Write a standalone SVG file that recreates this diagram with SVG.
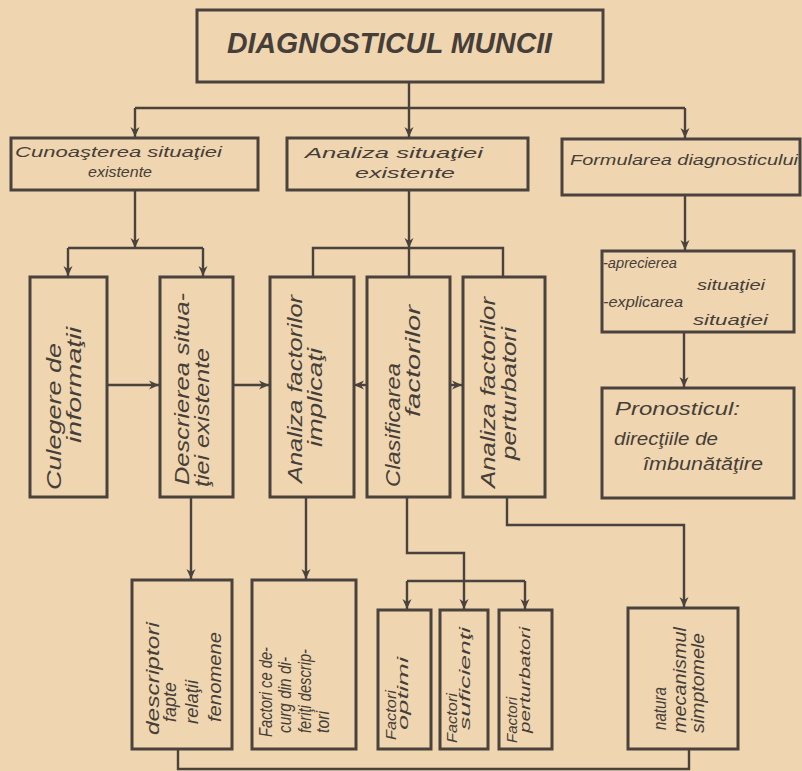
<svg xmlns="http://www.w3.org/2000/svg" width="802" height="771" viewBox="0 0 802 771">
<defs>
<style>
.bg{fill:#efd5b0}
.box{fill:none;stroke:#4a423c;stroke-width:3}
.ln{fill:none;stroke:#4a423c;stroke-width:2.4}
.t{font-family:"Liberation Sans",Arial,sans-serif;font-style:italic;fill:#463e38}
.h{font-size:15px}
.v{font-size:21px}
.s{font-size:18px}
.xs{font-size:15px}
.title{font-size:29px;font-weight:bold}
</style>
<marker id="ah" viewBox="0 0 10 10" refX="10" refY="5" markerWidth="10" markerHeight="10" markerUnits="userSpaceOnUse" orient="auto">
<path d="M0,0.5 L10,5 L0,9.5 L3,5 z" fill="#4a423c"/>
</marker>
</defs>
<rect class="bg" x="0" y="0" width="802" height="771"/>

<g id="connectors">
<path class="ln" d="M409,82 V137" marker-end="url(#ah)"/>
<path class="ln" d="M135,108 H685"/>
<path class="ln" d="M135,108 V137" marker-end="url(#ah)"/>
<path class="ln" d="M685,108 V138" marker-end="url(#ah)"/>
<path class="ln" d="M135,190 V248" marker-end="url(#ah)"/>
<path class="ln" d="M68,248 H203"/>
<path class="ln" d="M68,248 V276" marker-end="url(#ah)"/>
<path class="ln" d="M203,248 V276" marker-end="url(#ah)"/>
<path class="ln" d="M409,190 V248" marker-end="url(#ah)"/>
<path class="ln" d="M313,277 V248 H503 V277"/>
<path class="ln" d="M409,248 V277"/>
<path class="ln" d="M685,195 V250" marker-end="url(#ah)"/>
<path class="ln" d="M684,332 V387" marker-end="url(#ah)"/>
<path class="ln" d="M107,385 H159" marker-end="url(#ah)"/>
<path class="ln" d="M233,385 H269" marker-end="url(#ah)"/>
<path class="ln" d="M367,385 H354" marker-end="url(#ah)"/>
<path class="ln" d="M450,385 H462" marker-end="url(#ah)"/>
<path class="ln" d="M191,497 V579" marker-end="url(#ah)"/>
<path class="ln" d="M306,497 V579" marker-end="url(#ah)"/>
<path class="ln" d="M407,497 V553 H464 V609" marker-end="url(#ah)"/>
<path class="ln" d="M407,581 H525"/>
<path class="ln" d="M407,581 V609" marker-end="url(#ah)"/>
<path class="ln" d="M525,581 V609" marker-end="url(#ah)"/>
<path class="ln" d="M507,497 V525 H684 V607" marker-end="url(#ah)"/>
<path class="ln" d="M178,749 V769 H689 V749"/>
</g>

<g id="title">
<rect class="box" x="197" y="10" width="406" height="72"/>
<text class="t title" x="227" y="53" textLength="325" lengthAdjust="spacingAndGlyphs">DIAGNOSTICUL MUNCII</text>
</g>

<g id="cunoasterea">
<rect class="box" x="11" y="138" width="247" height="52"/>
<text class="t h" x="15" y="157" textLength="207" lengthAdjust="spacingAndGlyphs">Cunoaşterea situaţiei</text>
<text class="t h" x="88" y="177" textLength="64" lengthAdjust="spacingAndGlyphs">existente</text>
</g>

<g id="analiza-situatiei">
<rect class="box" x="287" y="138" width="241" height="52"/>
<text class="t h" x="305" y="158" textLength="178" lengthAdjust="spacingAndGlyphs">Analiza situaţiei</text>
<text class="t h" x="355" y="178" textLength="100" lengthAdjust="spacingAndGlyphs">existente</text>
</g>

<g id="formularea">
<rect class="box" x="562" y="139" width="238" height="56"/>
<text class="t h" x="570" y="165" textLength="228" lengthAdjust="spacingAndGlyphs">Formularea diagnosticului</text>
</g>

<g id="aprecierea">
<rect class="box" x="602" y="251" width="192" height="81"/>
<text class="t h" x="603" y="268" textLength="74" lengthAdjust="spacingAndGlyphs">-aprecierea</text>
<text class="t h" x="697" y="290" textLength="68" lengthAdjust="spacingAndGlyphs">situaţiei</text>
<text class="t h" x="603" y="307" textLength="80" lengthAdjust="spacingAndGlyphs">-explicarea</text>
<text class="t h" x="693" y="325" textLength="75" lengthAdjust="spacingAndGlyphs">situaţiei</text>
</g>

<g id="pronosticul">
<rect class="box" x="602" y="388" width="192" height="110"/>
<text class="t s" x="615" y="415" textLength="125" lengthAdjust="spacingAndGlyphs">Pronosticul:</text>
<text class="t s" x="614" y="445" textLength="104" lengthAdjust="spacingAndGlyphs">direcţiile de</text>
<text class="t s" x="643" y="470" textLength="120" lengthAdjust="spacingAndGlyphs">îmbunătăţire</text>
</g>

<g id="culegere">
<rect class="box" x="30" y="277" width="77" height="220"/>
<text class="t v" transform="translate(61,490) rotate(-90)" textLength="147" lengthAdjust="spacingAndGlyphs">Culegere de</text>
<text class="t v" transform="translate(81,443) rotate(-90)" textLength="116" lengthAdjust="spacingAndGlyphs">informaţii</text>
</g>

<g id="descrierea">
<rect class="box" x="160" y="277" width="73" height="220"/>
<text class="t v" transform="translate(189,485) rotate(-90)" textLength="192" lengthAdjust="spacingAndGlyphs">Descrierea situa-</text>
<text class="t v" transform="translate(209,487) rotate(-90)" textLength="139" lengthAdjust="spacingAndGlyphs">ţiei existente</text>
</g>

<g id="analiza-implicati">
<rect class="box" x="270" y="277" width="84" height="220"/>
<text class="t v" transform="translate(302,483) rotate(-90)" textLength="188" lengthAdjust="spacingAndGlyphs">Analiza factorilor</text>
<text class="t v" transform="translate(322,447) rotate(-90)" textLength="99" lengthAdjust="spacingAndGlyphs">implicaţi</text>
</g>

<g id="clasificarea">
<rect class="box" x="367" y="277" width="83" height="220"/>
<text class="t v" transform="translate(400,487) rotate(-90)" textLength="124" lengthAdjust="spacingAndGlyphs">Clasificarea</text>
<text class="t v" transform="translate(420,417) rotate(-90)" textLength="112" lengthAdjust="spacingAndGlyphs">factorilor</text>
</g>

<g id="analiza-perturbatori">
<rect class="box" x="463" y="277" width="82" height="220"/>
<text class="t v" transform="translate(495,488) rotate(-90)" textLength="191" lengthAdjust="spacingAndGlyphs">Analiza factorilor</text>
<text class="t v" transform="translate(516,460) rotate(-90)" textLength="133" lengthAdjust="spacingAndGlyphs">perturbatori</text>
</g>

<g id="descriptori">
<rect class="box" x="132" y="580" width="100" height="169"/>
<text class="t s" transform="translate(159,735) rotate(-90)" textLength="113" lengthAdjust="spacingAndGlyphs">descriptori</text>
<text class="t s" transform="translate(176,722) rotate(-90)" textLength="40" lengthAdjust="spacingAndGlyphs">fapte</text>
<text class="t s" transform="translate(198,724) rotate(-90)" textLength="44" lengthAdjust="spacingAndGlyphs">relaţii</text>
<text class="t s" transform="translate(221,722) rotate(-90)" textLength="90" lengthAdjust="spacingAndGlyphs">fenomene</text>
</g>

<g id="factori-ce-decurg">
<rect class="box" x="252" y="580" width="104" height="169"/>
<text class="t s" transform="translate(272,737) rotate(-90)" textLength="90" lengthAdjust="spacingAndGlyphs">Factori ce de-</text>
<text class="t s" transform="translate(291,733) rotate(-90)" textLength="76" lengthAdjust="spacingAndGlyphs">curg din di-</text>
<text class="t s" transform="translate(311,733) rotate(-90)" textLength="84" lengthAdjust="spacingAndGlyphs">feriţi descrip-</text>
<text class="t s" transform="translate(329,733) rotate(-90)" textLength="22" lengthAdjust="spacingAndGlyphs">tori</text>
</g>

<g id="factori-optimi">
<rect class="box" x="378" y="610" width="53" height="139"/>
<text class="t xs" transform="translate(396,740) rotate(-90)" textLength="50" lengthAdjust="spacingAndGlyphs">Factori</text>
<text class="t xs" transform="translate(408,730) rotate(-90)" textLength="73" lengthAdjust="spacingAndGlyphs">optimi</text>
</g>

<g id="factori-suficienti">
<rect class="box" x="440" y="610" width="48" height="139"/>
<text class="t xs" transform="translate(457,743) rotate(-90)" textLength="50" lengthAdjust="spacingAndGlyphs">Factori</text>
<text class="t xs" transform="translate(470,730) rotate(-90)" textLength="103" lengthAdjust="spacingAndGlyphs">suficienţi</text>
</g>

<g id="factori-perturbatori">
<rect class="box" x="499" y="610" width="53" height="139"/>
<text class="t xs" transform="translate(517,743) rotate(-90)" textLength="46" lengthAdjust="spacingAndGlyphs">Factori</text>
<text class="t xs" transform="translate(530,733) rotate(-90)" textLength="106" lengthAdjust="spacingAndGlyphs">perturbatori</text>
</g>

<g id="natura">
<rect class="box" x="628" y="608" width="110" height="141"/>
<text class="t s" transform="translate(666,730) rotate(-90)" textLength="43" lengthAdjust="spacingAndGlyphs">natura</text>
<text class="t s" transform="translate(686,733) rotate(-90)" textLength="106" lengthAdjust="spacingAndGlyphs">mecanismul</text>
<text class="t s" transform="translate(704,733) rotate(-90)" textLength="100" lengthAdjust="spacingAndGlyphs">simptomele</text>
</g>
</svg>
